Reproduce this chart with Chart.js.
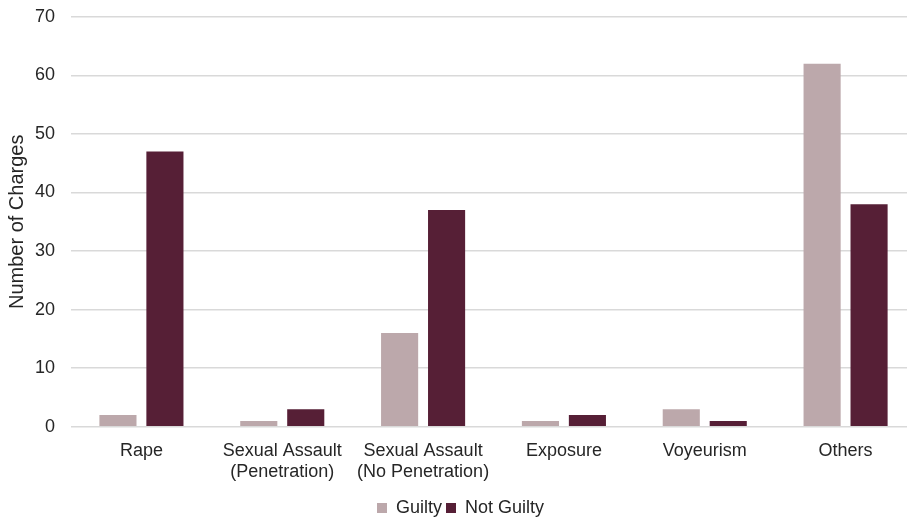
<!DOCTYPE html>
<html>
<head>
<meta charset="utf-8">
<script src="https://cdn.jsdelivr.net/npm/chart.js@4"></script>
<style>
  html, body { margin: 0; padding: 0; background: #fff; overflow: hidden; }
  #frame { width: 907px; height: 518px; position: relative; overflow: hidden; }
  #wrap { width: 916px; height: 537px; position: absolute; left: 0; top: -10px; }
</style>
</head>
<body>
<div id="frame"><div id="wrap"><canvas id="chargesChart"></canvas></div></div>
<script>
// Charge outcomes by offence type
const categories = [
  "Rape",
  ["Sexual Assault", "(Penetration)"],
  ["Sexual Assault", "(No Penetration)"],
  "Exposure",
  "Voyeurism",
  "Others",
];
const guilty = [2, 1, 16, 1, 3, 62];
const notGuilty = [47, 3, 37, 2, 1, 38];
const yTicks = [0, 10, 20, 30, 40, 50, 60, 70];

const textColor = "#262626";
const font = { family: "'Liberation Sans', Arial, sans-serif", size: 18 };

const ctx = document.getElementById("chargesChart").getContext("2d");
const chart = new Chart(ctx, {
  type: "bar",
  data: {
    labels: categories,
    datasets: [
      {
        label: "Guilty",
        data: guilty,
        backgroundColor: "#bca8ab",
        categoryPercentage: 0.667,
        barPercentage: 0.79,
      },
      {
        label: "Not Guilty",
        data: notGuilty,
        backgroundColor: "#561f36",
        categoryPercentage: 0.667,
        barPercentage: 0.79,
      },
    ],
  },
  options: {
    responsive: true,
    maintainAspectRatio: false,
    animation: false,
    layout: { padding: { left: 5, top: 0, right: 0, bottom: 0 } },
    plugins: {
      legend: {
        position: "bottom",
        labels: {
          color: textColor,
          font: font,
          boxWidth: 10,
          boxHeight: 10,
          padding: 4,
        },
      },
      tooltip: { enabled: false },
    },
    scales: {
      x: {
        grid: { display: false },
        border: { display: false },
        ticks: { color: textColor, font: font, padding: 5, maxRotation: 0 },
        // extra room between the category labels and the legend
        afterFit: (axis) => {
          axis.height += 7;
        },
      },
      y: {
        min: 0,
        max: 70,
        afterBuildTicks: (axis) => {
          axis.ticks = yTicks.map((v) => ({ value: v }));
        },
        grid: { color: "#d9d9d9", lineWidth: 1.5, drawTicks: false },
        border: { display: false },
        ticks: { color: textColor, font: font, padding: 16 },
        title: {
          display: true,
          text: "Number of Charges",
          color: textColor,
          font: { family: font.family, size: 20 },
          padding: { top: 0, bottom: -10 },
        },
      },
    },
  },
});
</script>
</body>
</html>
